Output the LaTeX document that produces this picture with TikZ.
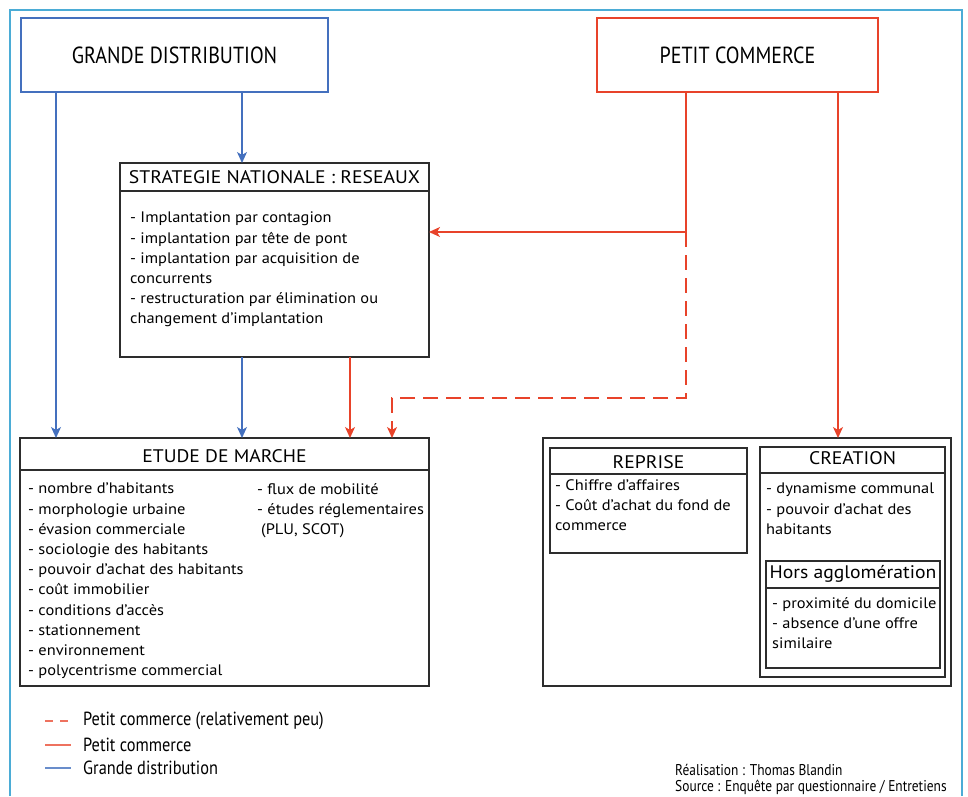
\documentclass[tikz,border=0pt]{standalone}
\usepackage{fontspec}
\setmainfont{PT Sans}[FakeStretch=1.08]
\newfontfamily\condfont[FakeStretch=0.86]{PT Sans}
\newfontfamily\bodyfont[FakeStretch=1.08]{PT Sans}
\usetikzlibrary{arrows.meta}
\definecolor{gdblue}{RGB}{68,112,190}
\definecolor{pcred}{RGB}{232,67,42}
\definecolor{framecyan}{RGB}{75,172,214}
\definecolor{boxgray}{RGB}{45,45,45}
\tikzset{
  box/.style={draw=boxgray,line width=1.3pt},
  sep/.style={draw=boxgray,line width=1.1pt},
  txt/.style={inner sep=0pt,align=left,anchor=north west,font=\bodyfont\fontsize{15.2}{20.2}\selectfont},
  hdr/.style={inner sep=0pt,font=\bodyfont\fontsize{18.2}{22}\selectfont},
  arr/.style={line width=1.4pt,-{Stealth[length=11pt,width=10pt,inset=3pt]}},
  bl/.style={arr,draw=gdblue},
  rd/.style={arr,draw=pcred},
  rdd/.style={rd,dash pattern=on 15pt off 8pt},
  leg/.style={inner sep=0pt,anchor=west,font=\condfont\fontsize{19}{22}\selectfont},
  cred/.style={inner sep=0pt,anchor=west,font=\condfont\fontsize{15.6}{18}\selectfont},
}
\begin{document}
\begin{tikzpicture}[x=1pt,y=-1pt]
\useasboundingbox (0,0) rectangle (968,796);
% outer frame
\draw[framecyan,line width=2pt] (10,796) -- (10,10) -- (962,10) -- (962,796);
% top boxes
\draw[gdblue,line width=1.3pt] (21,18) rectangle (328,92);
\node[inner sep=0pt,font=\condfont\fontsize{23.3}{26}\selectfont] (gd) at (174.5,55) {GRANDE DISTRIBUTION};
\coordinate (gdb1) at (56,92);
\coordinate (gdb2) at (242,92);
\draw[pcred,line width=1.3pt] (597,18) rectangle (878,92);
\node[inner sep=0pt,font=\condfont\fontsize{23.3}{26}\selectfont] (pc) at (737.5,55) {PETIT COMMERCE};
\coordinate (pcb1) at (686,92);
\coordinate (pcb2) at (838,92);
% strategie
\draw[box] (120,163) rectangle (429,357);
\draw[sep] (120,191) -- (429,191);
\node[hdr] (strh) at (274.5,177.5) {STRATEGIE NATIONALE : RESEAUX};
\node[txt] (strt) at (130,212) {- Implantation par contagion\\- implantation par tête de pont\\- implantation par acquisition de\\concurrents\\- restructuration par élimination ou\\changement d’implantation};
% etude
\draw[box] (20,438) rectangle (429,686);
\draw[sep] (20,470) -- (429,470);
\node[hdr] (eth) at (224.5,456.5) {ETUDE DE MARCHE};
\node[txt] (ett1) at (28,483) {- nombre d’habitants\\- morphologie urbaine\\- évasion commerciale\\- sociologie des habitants\\- pouvoir d’achat des habitants\\- coût immobilier\\- conditions d’accès\\- stationnement\\- environnement\\- polycentrisme commercial};
\node[txt] (ett2) at (257,483) {- flux de mobilité\\- études réglementaires\\\hspace*{4pt}(PLU, SCOT)};
% right big box
\draw[box] (543,438) rectangle (951,686);
\draw[box] (550,448) rectangle (747,553);
\draw[sep] (550,474) -- (747,474);
\node[hdr] (reh) at (648.5,462) {REPRISE};
\node[txt] (ret) at (555,479.5) {- Chiffre d’affaires\\- Coût d’achat du fond de\\commerce};
\draw[box] (760,447) rectangle (945,677);
\draw[sep] (760,473) -- (945,473);
\node[hdr] (crh) at (852.5,458.5) {CREATION};
\node[txt] (crt) at (766,483) {- dynamisme communal\\- pouvoir d’achat des\\habitants};
\draw[box] (766,561) rectangle (940,668);
\draw[sep] (766,588) -- (940,588);
\node[hdr] (hoh) at (853,574) {Hors agglomération};
\node[txt] (hot) at (772,597) {- proximité du domicile\\- absence d’une offre\\similaire};
% connectors
\coordinate (et1) at (56,438);
\coordinate (et2) at (242,438);
\coordinate (et3) at (350,438);
\coordinate (et4) at (392,438);
\coordinate (st1) at (242,163);
\coordinate (stb1) at (242,357);
\coordinate (stb2) at (350,357);
\coordinate (str) at (429,232);
\coordinate (pcj) at (686,232);
\coordinate (rb) at (838,438);
\draw[bl] (gdb1) -- (et1);
\draw[bl] (gdb2) -- (st1);
\draw[bl] (stb1) -- (et2);
\draw[rd] (stb2) -- (et3);
\draw[rd] (pcb1) -- (pcj) -- (str);
\draw[rdd] (pcj) -- (686,398) -- (392,398) -- (et4);
\draw[rd] (pcb2) -- (rb);
% legend
\coordinate (l1a) at (45,721); \coordinate (l1b) at (71,721);
\coordinate (l2a) at (45,745); \coordinate (l2b) at (71,745);
\coordinate (l3a) at (45,768); \coordinate (l3b) at (71,768);
\draw[pcred!75,line width=1.6pt,dash pattern=on 8pt off 7pt] (l1a) -- (l1b);
\draw[pcred!75,line width=1.6pt] (l2a) -- (l2b);
\draw[gdblue!80,line width=1.6pt] (l3a) -- (l3b);
\node[leg] (lg1) at (83,721) {Petit commerce (relativement peu)};
\node[leg] (lg2) at (83,745) {Petit commerce};
\node[leg] (lg3) at (83,768) {Grande distribution};
\node[cred] (cr1) at (675,770) {Réalisation : Thomas Blandin};
\node[cred] (cr2) at (675,787) {Source : Enquête par questionnaire / Entretiens};
\end{tikzpicture}
\end{document}
